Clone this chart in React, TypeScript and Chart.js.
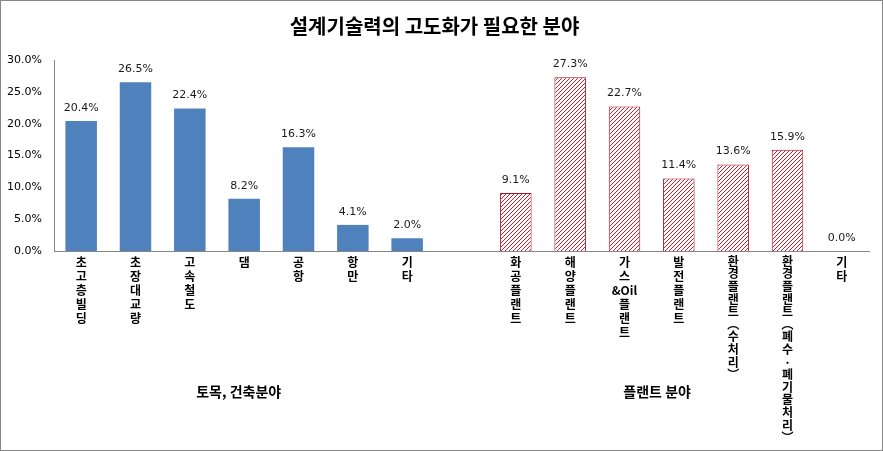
import React, { useEffect, useRef } from "react";
import { Chart, registerables } from "chart.js";

Chart.register(...registerables);

const titleText = "설계기술력의 고도화가 필요한 분야";
const categories: string[][] = [
  ["초", "고", "층", "빌", "딩"],
  ["초", "장", "대", "교", "량"],
  ["고", "속", "철", "도"],
  ["댐"],
  ["공", "항"],
  ["항", "만"],
  ["기", "타"],
  [""],
  ["화", "공", "플", "랜", "트"],
  ["해", "양", "플", "랜", "트"],
  ["가", "스", "&Oil", "플", "랜", "트"],
  ["발", "전", "플", "랜", "트"],
  ["환", "경", "플", "랜", "트", "︵", "수", "처", "리", "︶"],
  ["환", "경", "플", "랜", "트", "︵", "폐", "수", "·", "폐", "기", "물", "처", "리", "︶"],
  ["기", "타"],
];
const civilValues = [20.4, 26.5, 22.4, 8.2, 16.3, 4.1, 2.0];
const plantValues = [9.1, 27.3, 22.7, 11.4, 13.6, 15.9, 0.0];
const groupLabels = ["토목, 건축분야", "플랜트 분야"];
const yMax = 30;
const yStep = 5;

function makeHatch(): CanvasPattern | string {
  const c = document.createElement("canvas");
  c.width = 4;
  c.height = 4;
  const g = c.getContext("2d");
  if (!g) return "#ffffff";
  g.fillStyle = "#ffffff";
  g.fillRect(0, 0, 4, 4);
  g.fillStyle = "#C8202A";
  for (let i = 0; i < 4; i++) g.fillRect(i, 3 - i, 1, 1);
  const p = g.createPattern(c, "repeat");
  return p || "#ffffff";
}

export default function App() {
  const ref = useRef<HTMLCanvasElement | null>(null);

  useEffect(() => {
    document.body.style.margin = "0";
    const canvas = ref.current;
    if (!canvas) return;

    const n = categories.length;
    const civilData: (number | null)[] = Array.from({ length: n }, (_, i) =>
      i < civilValues.length ? civilValues[i] : null
    );
    const plantStart = n - plantValues.length;
    const plantData: (number | null)[] = Array.from({ length: n }, (_, i) =>
      i >= plantStart ? plantValues[i - plantStart] : null
    );

    const borderPlugin = {
      id: "frame",
      beforeDraw(chart: any) {
        const ctx = chart.ctx;
        ctx.save();
        ctx.fillStyle = "#ffffff";
        ctx.fillRect(0, 0, chart.width, chart.height);
        ctx.strokeStyle = "#868686";
        ctx.lineWidth = 1;
        ctx.strokeRect(0.5, 0.5, chart.width - 1, chart.height - 1);
        ctx.restore();
      },
    };

    const valueLabels = {
      id: "valueLabels",
      afterDatasetsDraw(chart: any) {
        const ctx = chart.ctx;
        ctx.save();
        ctx.font = "11px 'DejaVu Sans'";
        ctx.fillStyle = "#1a1a1a";
        ctx.textAlign = "center";
        ctx.textBaseline = "middle";
        chart.data.datasets.forEach((ds: any, di: number) => {
          const meta = chart.getDatasetMeta(di);
          meta.data.forEach((el: any, i: number) => {
            const v = ds.data[i];
            if (v === null || v === undefined) return;
            ctx.fillText(v.toFixed(1) + "%", el.x, el.y - 13);
          });
        });
        const xs = chart.scales.x;
        const bottom = chart.chartArea.bottom;
        ctx.font = "bold 14px 'Noto Sans CJK KR'";
        ctx.fillStyle = "#000000";
        const pos = [2.9, 10.6];
        groupLabels.forEach((t, k) => {
          ctx.fillText(t, xs.getPixelForValue(pos[k]), bottom + 141);
        });
        ctx.restore();
      },
    };

    const chart = new Chart(canvas, {
      type: "bar",
      data: {
        labels: categories,
        datasets: [
          {
            data: civilData,
            backgroundColor: "#4F81BD",
            borderWidth: 0,
            grouped: false,
            categoryPercentage: 1,
            barPercentage: 0.58,
          } as any,
          {
            data: plantData,
            backgroundColor: makeHatch() as any,
            borderColor: "#A8102A",
            borderWidth: 1,
            grouped: false,
            categoryPercentage: 1,
            barPercentage: 0.58,
          } as any,
        ],
      },
      options: {
        responsive: false,
        animation: false,
        layout: { padding: { left: 0, right: 14, top: 0, bottom: 0 } },
        plugins: {
          legend: { display: false },
          tooltip: { enabled: false },
          title: {
            display: true,
            text: titleText,
            color: "#000000",
            font: { family: "'Noto Sans CJK KR'", size: 20, weight: "bold" },
            padding: { top: 14, bottom: 22 },
          },
        },
        scales: {
          x: {
            grid: { display: false, drawTicks: false },
            border: { display: true, color: "#868686" },
            ticks: {
              autoSkip: false,
              maxRotation: 0,
              minRotation: 0,
              padding: 4,
              color: "#000000",
              font: ((ctx: any) => ({
                family: "'Noto Sans CJK KR'",
                size: 12,
                weight: "bold",
                lineHeight: ctx.index === 12 || ctx.index === 13 ? "12.6px" : "14px",
              })) as any,
            },
            afterFit(scale: any) {
              scale.height = 200;
            },
          },
          y: {
            min: 0,
            max: yMax,
            grid: { display: false, drawTicks: false },
            border: { display: true, color: "#868686" },
            ticks: {
              stepSize: yStep,
              padding: 12,
              color: "#000000",
              font: { family: "'DejaVu Sans'", size: 11 },
              callback: (v: any) => Number(v).toFixed(1) + "%",
            },
            afterFit(scale: any) {
              scale.width = 54;
            },
          },
        },
      },
      plugins: [borderPlugin, valueLabels],
    });

    return () => chart.destroy();
  }, []);

  return (
    <div style={{ width: 883, height: 451 }}>
      <canvas ref={ref} width={883} height={451} style={{ display: "block" }} />
    </div>
  );
}
